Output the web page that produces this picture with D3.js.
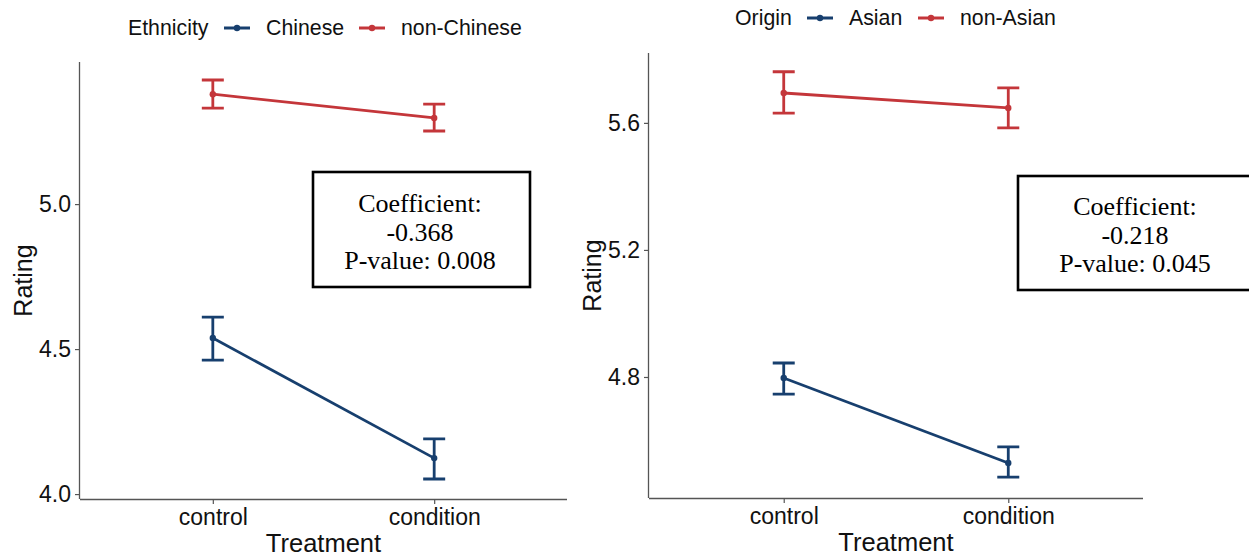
<!DOCTYPE html>
<html>
<head>
<meta charset="utf-8">
<script src="https://cdn.jsdelivr.net/npm/d3@7"></script>
<style>
  html, body { margin: 0; padding: 0; background: #fff; }
  svg { display: block; }
</style>
</head>
<body>
<svg id="chart" width="1249" height="556"></svg>
<script>
// ---------- DATA ----------
const treatments = ["control", "condition"];

const leftGroups = ["Chinese", "non-Chinese"];
const leftMeans = [[4.538, 4.124], [5.379, 5.297]];
const leftLower = [[4.462, 4.052], [5.331, 5.252]];
const leftUpper = [[4.610, 4.190], [5.428, 5.345]];
const leftTicks = [4.0, 4.5, 5.0];
const leftLegendTitle = "Ethnicity";
const leftNote = ["Coefficient:", "-0.368", "P-value: 0.008"];

const rightGroups = ["Asian", "non-Asian"];
const rightMeans = [[4.797, 4.529], [5.694, 5.647]];
const rightLower = [[4.746, 4.485], [5.631, 5.584]];
const rightUpper = [[4.844, 4.580], [5.761, 5.710]];
const rightTicks = [4.8, 5.2, 5.6];
const rightLegendTitle = "Origin";
const rightNote = ["Coefficient:", "-0.218", "P-value: 0.045"];

const groupColors = ["#173f6e", "#c4363a"];

// ---------- DRAW ----------
const svg = d3.select("#chart");
const sans = "'Liberation Sans', Arial, sans-serif";
const serif = "'Liberation Serif', 'Times New Roman', serif";

function panel(cfg) {
  const g = svg.append("g");
  const x = d3.scalePoint().domain(treatments).range([cfg.x0, cfg.x1]).padding(0.6);
  const y = d3.scaleLinear().domain(cfg.ydom).range([cfg.y1, cfg.y0]);

  // axes
  const yAxis = g.append("g").attr("transform", `translate(${cfg.x0},0)`)
    .call(d3.axisLeft(y).tickValues(cfg.ticks).tickFormat(d3.format(".1f")).tickSize(5).tickPadding(4));
  const xAxis = g.append("g").attr("transform", `translate(0,${cfg.y1})`)
    .call(d3.axisBottom(x).tickSize(5).tickPadding(5));
  [yAxis, xAxis].forEach(a => {
    a.select(".domain").attr("stroke", "#555").attr("stroke-width", 1.3);
    a.selectAll(".tick line").attr("stroke", "#555").attr("stroke-width", 1.2);
    a.selectAll(".tick text").attr("fill", "#111").style("font-family", sans).style("font-size", "23px");
  });
  xAxis.select(".domain").attr("d", `M${cfg.x0},0.5H${cfg.x1}`);
  yAxis.select(".domain").attr("d", `M-0.5,${cfg.y0}V${cfg.y1}`);

  // axis titles
  g.append("text").attr("x", (cfg.x0 + cfg.x1) / 2).attr("y", cfg.y1 + 53)
    .attr("text-anchor", "middle").style("font-family", sans).style("font-size", "25.5px").attr("fill", "#111")
    .text("Treatment");
  g.append("text").attr("transform", `translate(${cfg.ytitleX},${(cfg.y0 + cfg.y1) / 2}) rotate(-90)`)
    .attr("text-anchor", "middle").attr("dy", "0.35em")
    .style("font-family", sans).style("font-size", "25px").attr("fill", "#111")
    .text("Rating");

  // series
  const line = d3.line().x((d, i) => x(treatments[i])).y(d => y(d));
  cfg.groups.forEach((grp, gi) => {
    const col = groupColors[gi];
    g.append("path").datum(cfg.means[gi]).attr("d", line)
      .attr("fill", "none").attr("stroke", col).attr("stroke-width", 2.8);
    treatments.forEach((t, ti) => {
      const cx = x(t);
      const lo = y(cfg.lower[gi][ti]), hi = y(cfg.upper[gi][ti]);
      const cap = 11;
      g.append("path")
        .attr("d", `M${cx},${lo}V${hi}M${cx - cap},${lo}H${cx + cap}M${cx - cap},${hi}H${cx + cap}`)
        .attr("fill", "none").attr("stroke", col).attr("stroke-width", 2.8);
      g.append("circle").attr("cx", cx).attr("cy", y(cfg.means[gi][ti])).attr("r", 3.2).attr("fill", col);
    });
  });

  // legend
  const lg = g.append("g").attr("transform", `translate(0,${cfg.legendY})`);
  lg.append("text").attr("x", cfg.legendX).attr("y", 0).attr("dy", "0.35em")
    .style("font-family", sans).style("font-size", "21.3px").attr("fill", "#111").text(cfg.legendTitle);
  cfg.groups.forEach((grp, gi) => {
    const kx = cfg.keyX[gi];
    lg.append("line").attr("x1", kx).attr("x2", kx + 26).attr("y1", 0).attr("y2", 0)
      .attr("stroke", groupColors[gi]).attr("stroke-width", 3);
    lg.append("circle").attr("cx", kx + 13).attr("cy", 0).attr("r", 3.2).attr("fill", groupColors[gi]);
    lg.append("text").attr("x", kx + 42).attr("y", 0).attr("dy", "0.35em")
      .style("font-family", sans).style("font-size", "21.3px").attr("fill", "#111").text(grp);
  });

  // annotation box
  const b = cfg.box;
  g.append("rect").attr("x", b.x).attr("y", b.y).attr("width", b.w).attr("height", b.h)
    .attr("fill", "#fff").attr("stroke", "#000").attr("stroke-width", 2.6);
  cfg.note.forEach((s, i) => {
    g.append("text").attr("x", b.tx).attr("y", b.ty + i * 28.5).attr("dy", "0.35em")
      .attr("text-anchor", "middle").style("font-family", serif).style("font-size", "26px").attr("fill", "#000")
      .text(s);
  });
}

panel({
  x0: 80, x1: 567, y0: 62, y1: 499, ydom: [3.983, 5.49], ticks: leftTicks,
  ytitleX: 23, groups: leftGroups, means: leftMeans, lower: leftLower, upper: leftUpper,
  legendY: 28, legendX: 128, keyX: [224, 359], legendTitle: leftLegendTitle,
  box: { x: 313, y: 172, w: 217, h: 115, tx: 420, ty: 203 }, note: leftNote
});

panel({
  x0: 649, x1: 1143, y0: 53, y1: 498, ydom: [4.419, 5.82], ticks: rightTicks,
  ytitleX: 592, groups: rightGroups, means: rightMeans, lower: rightLower, upper: rightUpper,
  legendY: 18, legendX: 735, keyX: [807, 918], legendTitle: rightLegendTitle,
  box: { x: 1018, y: 176, w: 236, h: 114, tx: 1135, ty: 206 }, note: rightNote
});
</script>
</body>
</html>
